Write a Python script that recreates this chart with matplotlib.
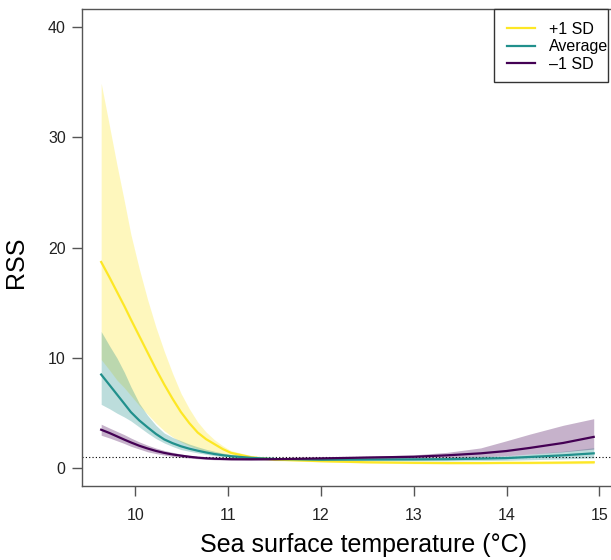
import matplotlib
matplotlib.use("Agg")
import matplotlib.pyplot as plt
from matplotlib.patches import Rectangle

# sea surface temperature grid (deg C)
sst = [9.63, 9.72, 9.8, 9.88, 9.95, 10.04, 10.13, 10.22, 10.31, 10.4,
       10.49, 10.58, 10.67, 10.76, 10.85, 10.94, 11.03, 11.25, 11.5, 12.0,
       12.5, 13.0, 13.36, 13.72, 14.0, 14.25, 14.61, 14.94]

# +1 SD
hi_mean = [18.7, 17.3, 16.0, 14.7, 13.5, 12.0, 10.5, 9.0, 7.6, 6.3,
           5.1, 4.1, 3.25, 2.65, 2.2, 1.75, 1.4, 1.0, 0.8, 0.65,
           0.55, 0.5, 0.48, 0.48, 0.5, 0.5, 0.52, 0.55]
hi_upper = [34.9, 31.0, 27.5, 24.2, 21.2, 18.1, 15.3, 12.8, 10.6, 8.6,
            6.8, 5.4, 4.2, 3.3, 2.6, 2.05, 1.6, 1.15, 0.9, 0.72,
            0.62, 0.58, 0.56, 0.57, 0.6, 0.6, 0.63, 0.68]
hi_lower = [9.86, 8.9, 8.0, 7.3, 6.6, 5.7, 4.9, 4.1, 3.4, 2.85,
            2.4, 2.05, 1.75, 1.5, 1.3, 1.15, 1.05, 0.85, 0.7, 0.58,
            0.48, 0.42, 0.4, 0.4, 0.4, 0.4, 0.42, 0.43]

# Average
avg_mean = [8.5, 7.55, 6.7, 5.85, 5.1, 4.35, 3.72, 3.12, 2.62, 2.28,
            2.0, 1.78, 1.6, 1.44, 1.3, 1.19, 1.1, 0.95, 0.85, 0.78,
            0.8, 0.81, 0.83, 0.88, 0.93, 1.03, 1.18, 1.36]
avg_upper = [12.4, 11.1, 10.0, 8.7, 7.4, 5.9, 4.8, 3.9, 3.2, 2.8,
             2.5, 2.2, 1.95, 1.73, 1.55, 1.38, 1.25, 1.07, 0.95, 0.88,
             0.9, 0.95, 1.0, 1.08, 1.15, 1.3, 1.55, 1.87]
avg_lower = [5.8, 5.4, 5.0, 4.65, 4.3, 3.75, 3.2, 2.7, 2.3, 1.98,
             1.7, 1.55, 1.4, 1.27, 1.15, 1.07, 1.0, 0.85, 0.76, 0.68,
             0.68, 0.68, 0.68, 0.7, 0.73, 0.78, 0.85, 0.95]

# -1 SD
lo_mean = [3.5, 3.2, 2.9, 2.6, 2.35, 2.05, 1.8, 1.58, 1.4, 1.26,
           1.15, 1.05, 0.97, 0.91, 0.87, 0.85, 0.83, 0.82, 0.83, 0.9,
           0.98, 1.05, 1.18, 1.36, 1.57, 1.85, 2.3, 2.85]
lo_upper = [4.0, 3.65, 3.35, 3.05, 2.75, 2.4, 2.1, 1.84, 1.62, 1.45,
            1.3, 1.18, 1.08, 1.02, 0.97, 0.94, 0.92, 0.9, 0.92, 1.0,
            1.1, 1.22, 1.45, 1.85, 2.5, 3.1, 3.9, 4.5]
lo_lower = [3.0, 2.75, 2.5, 2.25, 2.0, 1.75, 1.5, 1.34, 1.2, 1.09,
            1.0, 0.93, 0.87, 0.82, 0.78, 0.76, 0.74, 0.74, 0.75, 0.8,
            0.86, 0.9, 0.95, 1.05, 1.15, 1.3, 1.5, 1.75]

labels = ["+1 SD", "Average", "\u20131 SD"]
colors = ["#FDE725", "#21908C", "#440154"]
x_ticks = [10, 11, 12, 13, 14, 15]
y_ticks = [0, 10, 20, 30, 40]

plt.rcParams['font.family'] = ['Liberation Sans', 'DejaVu Sans']

W, H = 611, 560
fig = plt.figure(figsize=(W / 100, H / 100), dpi=100)
left, right, top, bottom = 81.7, 613.2, 9.3, 486.0
ax = fig.add_axes([left / W, 1 - bottom / H, (right - left) / W, (bottom - top) / H])

series = [(hi_mean, hi_upper, hi_lower), (avg_mean, avg_upper, avg_lower),
          (lo_mean, lo_upper, lo_lower)]

for (m, up, lo), c in zip(series, colors):
    ax.fill_between(sst, lo, up, color=c, alpha=0.3, linewidth=0)

ax.axhline(1, color="black", linestyle=(0, (1, 2)), linewidth=0.8)

for (m, up, lo), c, lab in zip(series, colors, labels):
    ax.plot(sst, m, color=c, linewidth=1.6, label=lab)

ax.set_xlim(9.42, 15.15)
ax.set_ylim(-1.6, 41.6)
ax.set_xticks(x_ticks)
ax.set_yticks(y_ticks)

spine_col = "#555555"
for s in ax.spines.values():
    s.set_color(spine_col)
    s.set_linewidth(1.0)
ax.tick_params(axis="both", colors=spine_col, labelcolor="#222222",
               labelsize=11.5, length=7.5, width=1.0)
ax.tick_params(axis="x", pad=8)
ax.tick_params(axis="y", pad=4)

ax.set_ylabel("RSS", fontsize=18, va="center")
ax.yaxis.set_label_coords(-(left - 16) / (right - left), (bottom - 262) / (bottom - top))
ax.set_xlabel("Sea surface temperature (\u00b0C)", fontsize=18, va="center")
ax.xaxis.set_label_coords((364 - left) / (right - left), -(545 - bottom) / (bottom - top))

# legend box drawn by hand, entries placed inside it
ax.add_patch(Rectangle((494 / W, 1 - 82 / H), (608 - 494) / W, (82 - 9) / H,
                       transform=fig.transFigure, facecolor="white",
                       edgecolor="#333333", linewidth=1.0, zorder=4, clip_on=False))
leg = ax.legend(loc="upper left", bbox_to_anchor=(507 / W, 1 - 22 / H),
                bbox_transform=fig.transFigure, borderaxespad=0, borderpad=0,
                fontsize=11.5, frameon=False,
                handlelength=1.75, handletextpad=0.85, labelspacing=0.15)
leg.set_zorder(6)

fig.savefig("out.png", dpi=100)
